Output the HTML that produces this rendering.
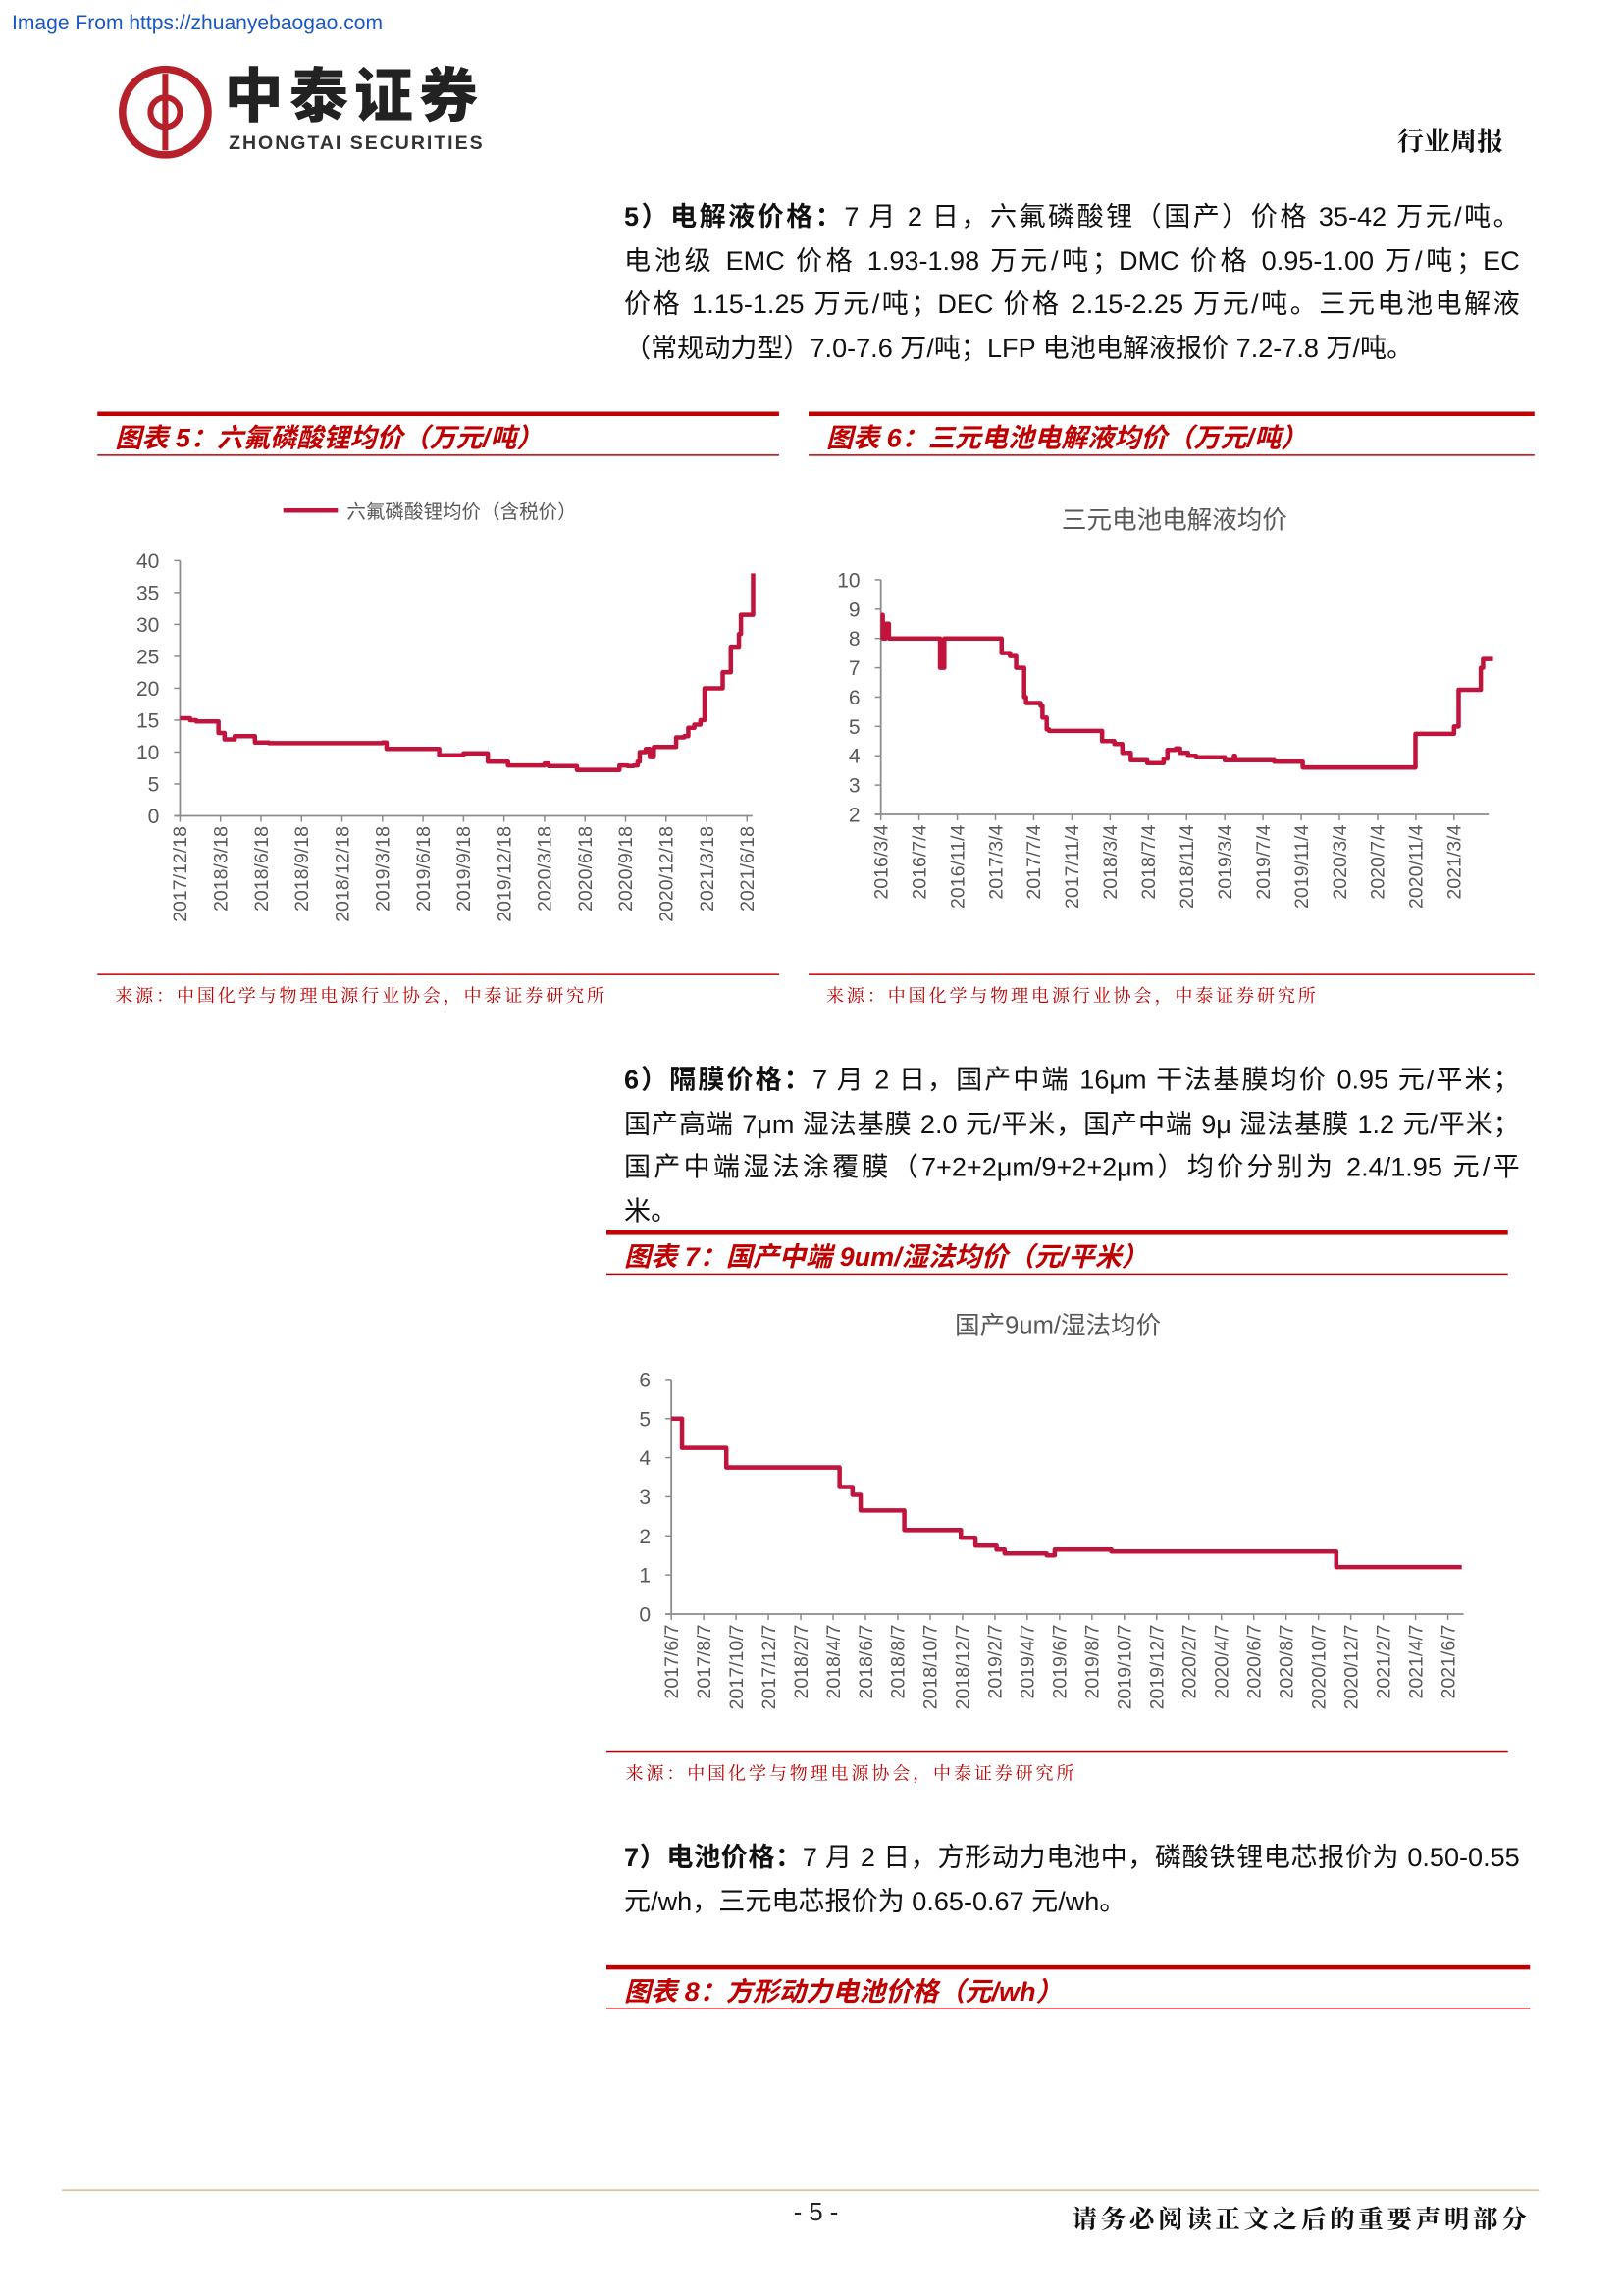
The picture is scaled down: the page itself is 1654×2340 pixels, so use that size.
<!DOCTYPE html>
<html><head><meta charset="utf-8">
<style>
html,body{margin:0;padding:0;background:#fff;}
body{width:1654px;height:2339px;overflow:hidden;position:relative;}
#pg{position:absolute;left:0;top:0;width:1100px;height:1556px;transform:scale(1.503636);transform-origin:0 0;font-family:"Liberation Sans","Noto Sans CJK SC",sans-serif;}
.abs{position:absolute;}
.para{position:absolute;left:423px;width:607px;font-size:18px;color:#111;}
.para div{height:29.5px;line-height:29.5px;white-space:nowrap;}
.j{text-align:justify;text-align-last:justify;}
.hd{position:absolute;}
.hd .thick{position:absolute;left:0;right:0;top:0;height:3px;background:#c00000;}
.hd .thin{position:absolute;left:0;right:0;top:29px;height:1px;background:#c00000;}
.hd .t{position:absolute;left:12px;top:4px;font-size:18px;font-weight:bold;font-style:italic;color:#c00000;white-space:nowrap;}
.src{position:absolute;font-size:12px;letter-spacing:1.9px;color:#c00000;font-family:"Liberation Serif","Noto Serif CJK SC",serif;white-space:nowrap;}
.sl{position:absolute;height:1px;background:#c00000;}
svg text{font-family:"Liberation Sans","Noto Sans CJK SC",sans-serif;}
</style></head><body>
<div id="pg">
<div class="abs" style="left:8px;top:7px;font-size:14px;color:#1a56c4;">Image From https://zhuanyebaogao.com</div>
<svg class="abs" style="left:78px;top:42px" width="70" height="70">
<circle cx="34" cy="34" r="29" fill="none" stroke="#b5202a" stroke-width="5"/>
<path d="M34 8 V60" stroke="#b5202a" stroke-width="4"/>
<path d="M34 24 a10 10 0 1 0 0 20" fill="none" stroke="#b5202a" stroke-width="4"/>
<path d="M34 24 a10 10 0 1 1 0 20" fill="none" stroke="#b5202a" stroke-width="4"/>
</svg>
<div class="abs" style="left:152px;top:42px;font-size:40px;line-height:48px;font-weight:900;color:#222;letter-spacing:4px;">中泰证券</div>
<div class="abs" style="left:155px;top:89px;font-size:13px;font-weight:bold;color:#333;letter-spacing:1.3px;">ZHONGTAI SECURITIES</div>
<div class="abs" style="left:947px;top:82px;font-size:18px;font-weight:bold;color:#111;font-family:'Liberation Serif','Noto Serif CJK SC',serif;">行业周报</div>

<div class="para" style="top:133px">
<div class="j"><b>5）电解液价格：</b>7 月 2 日，六氟磷酸锂（国产）价格 35-42 万元/吨。</div>
<div class="j">电池级 EMC 价格 1.93-1.98 万元/吨；DMC 价格 0.95-1.00 万/吨；EC</div>
<div class="j">价格 1.15-1.25 万元/吨；DEC 价格 2.15-2.25 万元/吨。三元电池电解液</div>
<div>（常规动力型）7.0-7.6 万/吨；LFP 电池电解液报价 7.2-7.8 万/吨。</div>
</div>

<div class="hd" style="left:66px;top:279px;width:462px;height:32px"><div class="thick"></div><div class="t">图表 5：六氟磷酸锂均价（万元/吨）</div><div class="thin"></div></div>
<div class="hd" style="left:548px;top:279px;width:492px;height:32px"><div class="thick"></div><div class="t">图表 6：三元电池电解液均价（万元/吨）</div><div class="thin"></div></div>

<svg id="c5" class="abs" style="left:66px;top:320px" width="462" height="335"></svg>
<svg id="c6" class="abs" style="left:548px;top:320px" width="492" height="335"></svg>
<div class="sl" style="left:66px;top:660px;width:462px"></div>
<div class="sl" style="left:548px;top:660px;width:492px"></div>
<div class="src" style="left:78px;top:666px">来源：中国化学与物理电源行业协会，中泰证券研究所</div>
<div class="src" style="left:560px;top:666px">来源：中国化学与物理电源行业协会，中泰证券研究所</div>

<div class="para" style="top:718px">
<div class="j"><b>6）隔膜价格：</b>7 月 2 日，国产中端 16μm 干法基膜均价 0.95 元/平米；</div>
<div class="j">国产高端 7μm 湿法基膜 2.0 元/平米，国产中端 9μ 湿法基膜 1.2 元/平米；</div>
<div class="j">国产中端湿法涂覆膜（7+2+2μm/9+2+2μm）均价分别为 2.4/1.95 元/平</div>
<div>米。</div>
</div>

<div class="hd" style="left:411px;top:834px;width:611px;height:32px"><div class="thick"></div><div class="t">图表 7：国产中端 9um/湿法均价（元/平米）</div><div class="thin"></div></div>
<svg id="c7" class="abs" style="left:411px;top:875px" width="611" height="308"></svg>
<div class="sl" style="left:411px;top:1187px;width:611px"></div>
<div class="src" style="left:424px;top:1193px">来源：中国化学与物理电源协会，中泰证券研究所</div>

<div class="para" style="top:1245px">
<div class="j"><b>7）电池价格：</b>7 月 2 日，方形动力电池中，磷酸铁锂电芯报价为 0.50-0.55</div>
<div>元/wh，三元电芯报价为 0.65-0.67 元/wh。</div>
</div>
<div class="hd" style="left:411px;top:1332px;width:626px;height:32px"><div class="thick"></div><div class="t">图表 8：方形动力电池价格（元/wh）</div><div class="thin"></div></div>

<div class="abs" style="left:42px;top:1484px;width:1001px;height:1px;background:#e0b88a"></div>
<div class="abs" style="left:530px;top:1490px;width:46px;text-align:center;font-size:17px;color:#222">- 5 -</div>
<div class="abs" style="left:700px;top:1490px;width:337px;text-align:right;font-size:17px;letter-spacing:2.4px;font-weight:bold;color:#111;font-family:'Liberation Serif','Noto Serif CJK SC',serif;">请务必阅读正文之后的重要声明部分</div>
</div>

<script>
// Chart 5 data (x in quarter-tick units from 2017/12/18)
const c5Ticks = ["2017/12/18","2018/3/18","2018/6/18","2018/9/18","2018/12/18","2019/3/18","2019/6/18","2019/9/18","2019/12/18","2020/3/18","2020/6/18","2020/9/18","2020/12/18","2021/3/18","2021/6/18"];
const c5YTicks = [0,5,10,15,20,25,30,35,40];
const c5X = [0,0.25,0.4,0.95,1.1,1.35,1.85,2.2,5.0,5.1,6.3,6.4,7.0,7.6,8.1,9.0,9.1,9.8,10.85,11.05,11.2,11.3,11.35,11.5,11.6,11.7,12.2,12.25,12.45,12.55,12.7,12.85,12.95,13.35,13.4,13.6,13.8,13.85,14.1,14.15];
const c5Y = [15.3,15.0,14.8,13.0,12.0,12.5,11.5,11.4,11.5,10.5,10.5,9.5,9.8,8.5,7.9,8.2,7.8,7.2,7.9,7.8,7.9,8.5,10.0,10.5,9.2,10.8,10.8,12.3,12.5,13.8,14.3,15.0,20.0,20.0,22.5,26.5,28.5,31.5,31.5,38.0];
// Chart 6 data (x in 4-month tick units from 2016/3/4)
const c6Ticks = ["2016/3/4","2016/7/4","2016/11/4","2017/3/4","2017/7/4","2017/11/4","2018/3/4","2018/7/4","2018/11/4","2019/3/4","2019/7/4","2019/11/4","2020/3/4","2020/7/4","2020/11/4","2021/3/4"];
const c6YTicks = [2,3,4,5,6,7,8,9,10];
const c6X = [0,0.05,0.13,0.21,1.5,1.55,1.66,3.11,3.16,3.38,3.54,3.7,3.75,3.8,4.18,4.23,4.34,4.4,5.68,5.79,6.11,6.32,6.54,6.97,7.4,7.5,7.72,7.83,8.04,8.25,9.0,9.22,9.24,9.27,10.18,10.29,10.93,11.04,13.88,13.99,14.95,15.0,15.06,15.12,15.65,15.7,15.76,16.02];
const c6Y = [8.8,8.0,8.5,8.0,8.0,7.0,8.0,8.0,7.5,7.4,7.0,7.0,6.0,5.8,5.7,5.3,4.9,4.85,4.85,4.5,4.4,4.1,3.85,3.75,3.9,4.2,4.25,4.1,4.0,3.95,3.85,3.85,4.0,3.85,3.85,3.8,3.8,3.6,3.6,4.75,4.75,5.0,5.0,6.25,6.25,7.0,7.3,7.3];
// Chart 7 data (x in 2-month tick units from 2017/6/7)
const c7Ticks = ["2017/6/7","2017/8/7","2017/10/7","2017/12/7","2018/2/7","2018/4/7","2018/6/7","2018/8/7","2018/10/7","2018/12/7","2019/2/7","2019/4/7","2019/6/7","2019/8/7","2019/10/7","2019/12/7","2020/2/7","2020/4/7","2020/6/7","2020/8/7","2020/10/7","2020/12/7","2021/2/7","2021/4/7","2021/6/7"];
const c7YTicks = [0,1,2,3,4,5,6];
const c7X = [0,0.33,1.7,5.2,5.6,5.85,7.2,8.95,9.4,10.05,10.3,11.6,11.85,13.6,20.55,24.43];
const c7Y = [5.0,4.25,3.75,3.25,3.05,2.65,2.15,1.95,1.75,1.65,1.55,1.5,1.65,1.6,1.2,1.2];

const NS="http://www.w3.org/2000/svg";
function mk(tag,attrs,parent){const e=document.createElementNS(NS,tag);for(const k in attrs)e.setAttribute(k,attrs[k]);parent.appendChild(e);return e;}

function drawChart(id,o){
  const svg=document.getElementById(id);
  const xs=v=>o.x0+v*o.dx;
  const ys=v=>o.yb-(v-o.ymin)/(o.ymax-o.ymin)*(o.yb-o.yt);
  const ya=mk('line',{x1:o.x0,y1:o.yt,x2:o.x0,y2:o.yb,stroke:'#8c8c8c','stroke-width':1.2},svg);
  
  
  const xa=mk('line',{x1:o.x0-4,y1:o.yb,x2:o.xend,y2:o.yb,stroke:'#8c8c8c','stroke-width':1.2},svg);
  
  
  o.yTicks.forEach(v=>{
    const y=ys(v);
    mk('line',{x1:o.x0-4,y1:y,x2:o.x0,y2:y,stroke:'#8c8c8c','stroke-width':1},svg);
    const t=mk('text',{x:o.x0-14,y:y+5,'text-anchor':'end','font-size':14,fill:'#595959'},svg);
    t.textContent=v;
    
    
  });
  o.xTicks.forEach((lab,i)=>{
    const x=xs(i);
    mk('line',{x1:x,y1:o.yb,x2:x,y2:o.yb+4,stroke:'#8c8c8c','stroke-width':1},svg);
    const t=mk('text',{x:0,y:0,'text-anchor':'end','font-size':13,fill:'#595959',transform:`translate(${x+4.5},${o.yb+7}) rotate(-90)`},svg);
    t.textContent=lab;
    
    
  });
  let d='';
  for(let i=0;i<o.X.length;i++){
    const x=xs(o.X[i]).toFixed(2), y=ys(o.Y[i]).toFixed(2);
    if(i===0) d+=`M${x},${y}`;
    else { d+=`H${x}V${y}`; }
  }
  const p=mk('path',{d:d,fill:'none',stroke:'#c0143c','stroke-width':3,'stroke-linejoin':'round'},svg);
  
  
  return svg;
}

const s5=drawChart('c5',{x0:56,dx:27.45,xend:444,yt:60,yb:233,ymin:0,ymax:40,yTicks:c5YTicks,xTicks:c5Ticks,X:c5X,Y:c5Y});
const lg=mk('line',{x1:126,y1:26,x2:163,y2:26,stroke:'#c0143c','stroke-width':3},s5);


const lt=mk('text',{x:169,y:31,'font-size':13,fill:'#595959'},s5);
lt.textContent='六氟磷酸锂均价（含税价）';



const s6=drawChart('c6',{x0:49,dx:25.9,xend:461,yt:73,yb:232,ymin:2,ymax:10,yTicks:c6YTicks,xTicks:c6Ticks,X:c6X,Y:c6Y});
const t6=mk('text',{x:248,y:38,'text-anchor':'middle','font-size':17,fill:'#595959'},s6);
t6.textContent='三元电池电解液均价';



const s7=drawChart('c7',{x0:44,dx:21.93,xend:581,yt:60,yb:219,ymin:0,ymax:6,yTicks:c7YTicks,xTicks:c7Ticks,X:c7X,Y:c7Y});
const t7=mk('text',{x:306,y:29,'text-anchor':'middle','font-size':17,fill:'#595959','font-family':'Liberation Serif, Noto Serif CJK SC, serif'},s7);
t7.textContent='国产9um/湿法均价';


</script>
</body></html>
